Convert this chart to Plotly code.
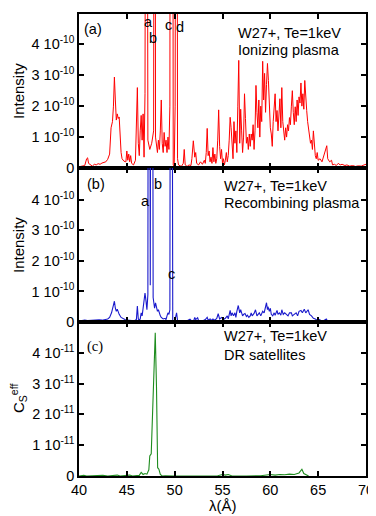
import plotly.graph_objects as go
import numpy as np

# ---- data (intensities in units of 1e-10, panel c in units of 1e-11) ----
wl_ion = [40.0, 40.3, 40.6, 40.8, 40.9, 41.0, 41.2, 41.4, 41.6, 41.8, 42.0, 42.2, 42.4, 42.6, 42.8,
          43.0, 43.2, 43.35, 43.5, 43.6, 43.7, 43.8, 43.9, 44.0, 44.1, 44.2, 44.3, 44.4, 44.5, 44.7,
          44.9, 45.0, 45.1, 45.2, 45.3, 45.4, 45.5, 45.7, 45.9, 46.0, 46.1, 46.2, 46.3, 46.4, 46.5,
          46.6, 46.7, 46.8, 46.9, 47.05, 47.15, 47.2, 47.4, 47.6, 47.8, 47.92, 48.0, 48.1, 48.2, 48.3,
          48.4, 48.5, 48.6, 48.7, 48.8, 48.9, 49.0, 49.1, 49.2, 49.3, 49.4, 49.5, 49.6, 49.75, 49.85,
          49.95, 50.05, 50.2, 50.3, 50.4, 50.5, 50.7, 50.9, 51.0, 51.1, 51.3, 51.5, 51.7, 51.8, 51.95,
          52.1, 52.2, 52.3, 52.5, 52.7, 52.9, 53.1, 53.2, 53.3, 53.4, 53.5, 53.6, 53.7, 53.8, 53.9,
          54.0, 54.1, 54.2, 54.3, 54.4, 54.5, 54.6, 54.7, 54.8, 54.9, 55.0, 55.1, 55.2, 55.3, 55.4,
          55.5, 55.6, 55.7, 55.8, 55.9, 56.0, 56.1, 56.2, 56.3, 56.4, 56.5, 56.6, 56.7, 56.8, 56.9,
          57.0, 57.1, 57.2, 57.3, 57.4, 57.5, 57.6, 57.7, 57.8, 57.9, 58.0, 58.1, 58.2, 58.3, 58.4,
          58.5, 58.6, 58.7, 58.8, 58.9, 59.0, 59.1, 59.2, 59.3, 59.4, 59.5, 59.6, 59.7, 59.8, 59.9,
          60.0, 60.1, 60.2, 60.3, 60.4, 60.5, 60.6, 60.7, 60.8, 60.9, 61.0, 61.1, 61.2, 61.3, 61.4,
          61.5, 61.6, 61.7, 61.8, 61.9, 62.0, 62.1, 62.2, 62.3, 62.4, 62.5, 62.6, 62.7, 62.8, 62.9,
          63.0, 63.1, 63.2, 63.3, 63.4, 63.5, 63.6, 63.7, 63.8, 63.9, 64.0, 64.1, 64.2, 64.3, 64.4,
          64.5, 64.6, 64.7, 64.8, 64.9, 65.0, 65.2, 65.4, 65.6, 65.8, 65.9, 66.0, 66.2, 66.4, 66.5,
          66.7, 66.9, 67.1, 67.3, 67.5, 67.8, 68.0, 68.3, 68.6, 68.9, 69.2, 69.5, 69.8, 70.0]
int_ion = [0.04, 0.05, 0.08, 0.30, 0.33, 0.15, 0.10, 0.06, 0.12, 0.10, 0.14, 0.12, 0.16, 0.18, 0.20,
           0.28, 0.45, 1.30, 1.50, 2.00, 2.94, 2.20, 1.55, 1.75, 1.60, 1.65, 1.00, 0.50, 0.30, 0.22,
           0.20, 0.55, 0.25, 0.45, 0.20, 0.40, 0.15, 0.10, 0.25, 1.20, 2.60, 0.80, 0.40, 1.20, 1.70,
           0.90, 1.75, 0.35, 2.40, 30.0, 1.50, 0.90, 0.60, 0.80, 1.20, 30.0, 1.00, 0.60, 0.50, 0.90,
           0.60, 1.20, 2.20, 0.80, 0.50, 1.15, 0.70, 0.90, 0.50, 1.00, 0.60, 2.00, 30.0, 30.0, 0.10,
           0.05, 2.00, 30.0, 0.30, 0.10, 0.08, 0.05, 0.15, 0.60, 0.10, 0.05, 0.10, 0.08, 0.30, 0.88,
           0.35, 0.50, 0.15, 0.10, 0.20, 0.12, 0.25, 0.15, 0.50, 1.28, 0.40, 0.55, 0.20, 0.35, 0.15,
           0.66, 0.20, 0.45, 0.15, 0.30, 0.90, 1.88, 0.70, 0.30, 0.60, 0.15, 0.30, 0.10, 0.25, 0.50,
           0.20, 0.40, 0.90, 1.64, 1.30, 0.50, 0.30, 1.50, 0.80, 1.20, 0.50, 2.00, 3.48, 0.80, 1.90,
           1.20, 0.50, 1.00, 2.40, 1.60, 0.80, 1.00, 0.60, 1.10, 0.70, 1.10, 0.90, 1.40, 0.60, 1.20,
           2.67, 1.80, 1.30, 2.20, 1.00, 2.00, 1.50, 3.45, 2.20, 3.06, 1.80, 2.70, 3.38, 2.83, 2.00,
           1.30, 1.10, 0.70, 1.50, 1.90, 2.40, 1.50, 1.86, 1.20, 1.60, 2.24, 1.30, 2.60, 1.50, 1.20,
           0.90, 1.30, 1.00, 1.40, 1.20, 1.63, 1.40, 2.00, 2.50, 1.80, 1.40, 1.98, 1.50, 2.20, 1.70,
           2.30, 2.10, 2.75, 2.00, 2.40, 1.90, 2.83, 2.20, 1.86, 1.50, 1.30, 1.00, 0.80, 0.90, 0.60,
           1.20, 0.70, 0.40, 0.30, 0.50, 0.25, 0.30, 0.20, 0.40, 0.55, 0.72, 0.30, 0.20, 0.25, 0.10,
           0.12, 0.08, 0.15, 0.10, 0.12, 0.08, 0.10, 0.06, 0.08, 0.05, 0.07, 0.06, 0.10, 0.12]

wl_rec = [40.0, 40.3, 40.6, 40.9, 41.2, 41.5, 41.8, 42.1, 42.4, 42.7, 43.0, 43.2, 43.4, 43.6, 43.7,
          43.8, 43.9, 44.0, 44.1, 44.2, 44.4, 44.6, 44.8, 45.0, 45.2, 45.4, 45.6, 45.8, 46.0, 46.1,
          46.2, 46.3, 46.4, 46.5, 46.6, 46.7, 46.8, 46.9, 47.0, 47.1, 47.2, 47.3, 47.45, 47.6, 47.75,
          47.9, 48.0, 48.1, 48.2, 48.3, 48.4, 48.5, 48.6, 48.8, 49.0, 49.1, 49.2, 49.3, 49.4, 49.5,
          49.63, 49.8, 49.9, 50.0, 50.2, 50.3, 50.5, 50.8, 51.0, 51.3, 51.6, 51.8, 52.0, 52.1, 52.2,
          52.4, 52.5, 52.8, 53.0, 53.2, 53.4, 53.5, 53.7, 53.9, 54.0, 54.2, 54.4, 54.55, 54.7, 54.9,
          55.1, 55.3, 55.5, 55.6, 55.8, 55.9, 56.0, 56.15, 56.3, 56.4, 56.5, 56.65, 56.8, 56.9, 57.0,
          57.1, 57.2, 57.35, 57.5, 57.6, 57.75, 57.9, 58.0, 58.1, 58.3, 58.45, 58.6, 58.7, 58.85, 59.0,
          59.2, 59.35, 59.5, 59.6, 59.7, 59.75, 59.9, 60.0, 60.1, 60.25, 60.4, 60.5, 60.7, 60.8, 60.95,
          61.1, 61.2, 61.35, 61.5, 61.7, 61.85, 62.0, 62.2, 62.3, 62.5, 62.7, 62.85, 63.0, 63.2, 63.35,
          63.55, 63.7, 63.95, 64.1, 64.3, 64.5, 64.7, 64.9, 65.0, 65.2, 65.4, 65.6, 65.85, 66.0, 66.3,
          66.8, 67.3, 67.8, 68.3, 68.8, 69.3, 69.8, 70.0]
int_rec = [0.03, 0.05, 0.06, 0.05, 0.06, 0.05, 0.06, 0.07, 0.06, 0.08, 0.10, 0.15, 0.30, 0.55, 0.68,
           0.45, 0.35, 0.42, 0.30, 0.25, 0.15, 0.10, 0.08, 0.06, 0.05, 0.04, 0.03, 0.04, 0.08, 0.52,
           0.10, 0.06, 0.10, 0.30, 0.20, 0.50, 0.60, 0.95, 0.70, 0.40, 0.90, 30.0, 1.20, 30.0, 0.80,
           0.45, 0.63, 0.50, 0.35, 0.40, 0.25, 0.20, 0.15, 0.10, 0.12, 0.08, 0.20, 0.30, 0.25, 0.40,
           30.0, 0.05, 0.02, 0.03, 0.30, 0.05, 0.02, 0.03, 0.05, 0.04, 0.09, 0.03, 0.05, 0.15, 0.08,
           0.14, 0.04, 0.03, 0.05, 0.08, 0.15, 0.06, 0.10, 0.05, 0.10, 0.06, 0.12, 0.27, 0.10, 0.15,
           0.08, 0.12, 0.20, 0.10, 0.38, 0.20, 0.30, 0.20, 0.30, 0.15, 0.35, 0.54, 0.30, 0.40, 0.30,
           0.20, 0.25, 0.28, 0.18, 0.22, 0.15, 0.20, 0.30, 0.20, 0.28, 0.40, 0.20, 0.25, 0.30, 0.20,
           0.35, 0.30, 0.45, 0.63, 0.40, 0.50, 0.35, 0.45, 0.25, 0.20, 0.30, 0.22, 0.38, 0.25, 0.30,
           0.22, 0.40, 0.25, 0.30, 0.25, 0.20, 0.30, 0.30, 0.20, 0.25, 0.30, 0.20, 0.35, 0.38, 0.30,
           0.42, 0.30, 0.40, 0.25, 0.20, 0.12, 0.10, 0.06, 0.10, 0.05, 0.03, 0.05, 0.10, 0.02, 0.01,
           0.01, 0.01, 0.00, 0.01, 0.01, 0.00, 0.01, 0.01]

wl_dr = [40.0, 40.5, 40.8, 41.5, 42.0, 42.5, 43.0, 43.5, 44.0, 44.3, 45.0, 45.3, 45.6, 46.0, 46.3,
         46.5, 46.7, 46.9, 47.1, 47.3, 47.4, 47.55, 47.7, 47.85, 47.97, 48.1, 48.22, 48.35, 48.5, 48.7,
         49.0, 50.0, 51.0, 52.0, 53.0, 54.5, 55.0, 55.3, 55.6, 56.0, 57.5, 59.0, 60.0, 60.5, 61.0,
         61.5, 62.0, 62.5, 63.0, 63.3, 63.5, 63.7, 64.0]
int_dr = [0.00, 0.02, 0.00, 0.01, 0.00, 0.02, 0.00, 0.01, 0.03, 0.00, 0.01, 0.03, 0.00, 0.01, 0.02,
          0.12, 0.05, 0.08, 0.06, 0.20, 0.65, 0.72, 2.30, 3.30, 4.65, 2.90, 0.27, 0.22, 0.05, 0.00,
          0.01, 0.00, 0.01, 0.00, 0.00, 0.01, 0.05, 0.03, 0.05, 0.00, 0.00, 0.01, 0.05, 0.03, 0.05,
          0.04, 0.06, 0.05, 0.10, 0.22, 0.08, 0.04, 0.00]

x_ticks = [40, 45, 50, 55, 60, 65, 70]
y_ticks_ab = [0, 1, 2, 3, 4]
y_text_ab = ["0", "1 10<sup>-10</sup>", "2 10<sup>-10</sup>", "3 10<sup>-10</sup>", "4 10<sup>-10</sup>"]
y_text_c = ["0", "1 10<sup>-11</sup>", "2 10<sup>-11</sup>", "3 10<sup>-11</sup>", "4 10<sup>-11</sup>"]

FONT = "Liberation Sans, Arial, sans-serif"
TS = 14.5   # tick label size
AS = 14.5   # annotation size

fig = go.Figure()
fig.add_trace(go.Scatter(x=wl_ion, y=np.array(int_ion) * 1e-10, mode="lines",
                         line=dict(color="#ff0000", width=1), xaxis="x", yaxis="y"))
fig.add_trace(go.Scatter(x=wl_rec, y=np.array(int_rec) * 1e-10, mode="lines",
                         line=dict(color="#1a1acc", width=1.1), xaxis="x2", yaxis="y2"))
fig.add_trace(go.Scatter(x=wl_dr, y=np.array(int_dr) * 1e-11, mode="lines",
                         line=dict(color="#1e8c1e", width=1.1), xaxis="x3", yaxis="y3"))

axis_common = dict(showline=True, linecolor="black", linewidth=1.5, mirror="ticks",
                   ticks="inside", ticklen=5, tickwidth=1.5, tickcolor="black",
                   showgrid=False, zeroline=False, automargin=False,
                   tickfont=dict(family=FONT, size=TS, color="black"))

H = 154 / 462.0
doms = [(2 * H, 1.0), (H, 2 * H), (0.0, H)]

# page body has an 8px default margin, so the figure is shifted by 8px
layout = dict(
    width=368, height=508, showlegend=False,
    margin=dict(l=71, r=10, t=6, b=40),
    plot_bgcolor="white", paper_bgcolor="white",
    font=dict(family=FONT, size=TS, color="black"),
)
for i, (d0, d1) in enumerate(doms):
    sx = "" if i == 0 else str(i + 1)
    xa = dict(axis_common, range=[40, 70], tickvals=x_ticks, domain=[0, 1],
              anchor="y" + sx, showticklabels=(i == 2))
    if i == 0:
        ya = dict(axis_common, range=[0, 4.98e-10], tickvals=[v * 1e-10 for v in y_ticks_ab],
                  ticktext=y_text_ab)
    elif i == 1:
        ya = dict(axis_common, range=[0, 5.04e-10], tickvals=[v * 1e-10 for v in y_ticks_ab],
                  ticktext=y_text_ab)
    else:
        ya = dict(axis_common, range=[0, 5.0e-11], tickvals=[v * 1e-11 for v in y_ticks_ab],
                  ticktext=y_text_c)
    ya.update(domain=[d0, d1], anchor="x" + sx)
    layout["xaxis" + sx] = xa
    layout["yaxis" + sx] = ya

fig.update_layout(**layout)

ann = []
def A(text, x, y, xr, yr, size=AS, xanchor="center", family=FONT):
    ann.append(dict(text=text, x=x, y=y, xref=xr, yref=yr, showarrow=False,
                    xanchor=xanchor, yanchor="middle",
                    font=dict(family=family, size=size, color="black")))

# panel a
A("(a)", 41.46, 4.49e-10, "x", "y")
A("a", 47.28, 4.73e-10, "x", "y")
A("b", 47.70, 4.19e-10, "x", "y")
A("c", 49.33, 4.62e-10, "x", "y")
A("d", 50.56, 4.56e-10, "x", "y")
A("W27+, Te=1keV", 62.05, 4.35e-10, "x", "y")
A("Ionizing plasma", 62.0, 3.80e-10, "x", "y")
# panel b
A("(b)", 41.74, 4.51e-10, "x2", "y2")
A("a", 46.9, 3.97e-10, "x2", "y2")
A("b", 48.29, 4.51e-10, "x2", "y2")
A("c", 49.62, 1.58e-10, "x2", "y2")
A("W27+, Te=1keV", 54.95, 4.46e-10, "x2", "y2", xanchor="left")
A("Recombining plasma", 54.95, 3.88e-10, "x2", "y2", xanchor="left")
# panel c
A("(c)", 41.67, 4.2e-11, "x3", "y3", family="Liberation Serif, Times New Roman, serif")
A("W27+, Te=1keV", 54.95, 4.53e-11, "x3", "y3", xanchor="left")
A("DR satellites", 54.95, 3.92e-11, "x3", "y3", xanchor="left")
# y titles
xt = (18 - 79) / 287.0
for txt, yc in [("Intensity", (2 * H + 1) / 2), ("Intensity", 1.5 * H),
                ("C<sub>S</sub><sup>eff</sup>", 0.5 * H)]:
    ann.append(dict(text=txt, x=xt, y=yc, xref="paper", yref="paper", showarrow=False,
                    textangle=-90, xanchor="center", yanchor="middle",
                    font=dict(family=FONT, size=15, color="black")))
# x title
ann.append(dict(text="λ(Å)", x=0.5, y=-29 / 462.0, xref="paper", yref="paper",
                showarrow=False, xanchor="center", yanchor="middle",
                font=dict(family=FONT, size=15, color="black")))
fig.update_layout(annotations=ann)

fig.write_html("out.html")
